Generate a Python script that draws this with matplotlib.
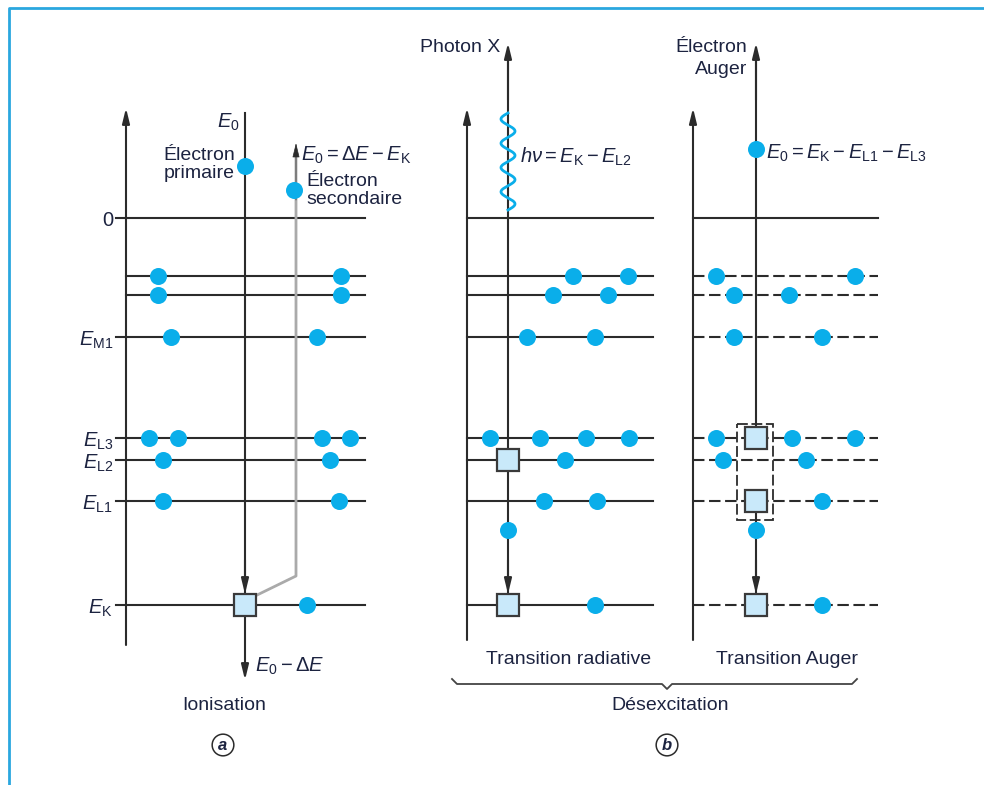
import numpy as np
import matplotlib.pyplot as plt
from matplotlib.patches import Rectangle

plt.rcParams['font.family'] = ['Liberation Sans', 'DejaVu Sans']
plt.rcParams['mathtext.fontset'] = 'custom'
plt.rcParams['mathtext.rm'] = 'Liberation Sans'
plt.rcParams['mathtext.it'] = 'Liberation Sans:italic'
plt.rcParams['mathtext.bf'] = 'Liberation Sans:bold'

# energy levels (vertical position in the drawing, top = 0)
level_names = ['0', '', '', 'M1', 'L3', 'L2', 'L1', 'K']
level_y = [218, 276, 295, 337, 438, 460, 501, 605]
level_labels = ['0', '', '', '$E_{\\mathrm{M1}}$', '$E_{\\mathrm{L3}}$',
                '$E_{\\mathrm{L2}}$', '$E_{\\mathrm{L1}}$', '$E_{\\mathrm{K}}$']

# electrons on each level (x positions) for each panel
ion_dots = {1: [158, 341], 2: [158, 341], 3: [171, 317], 4: [149, 178, 322, 350],
            5: [163, 330], 6: [163, 339], 7: [307]}
rad_dots = {1: [573, 628], 2: [553, 608], 3: [527, 595], 4: [490, 540, 586, 629],
            5: [565], 6: [544, 597], 7: [595]}
aug_dots = {1: [716, 855], 2: [734, 789], 3: [734, 822], 4: [716, 792, 855],
            5: [723, 806], 6: [822], 7: [822]}

# holes (squares)
ion_holes = [(245, 7)]
rad_holes = [(508, 5), (508, 7)]
aug_holes = [(756, 4), (756, 6), (756, 7)]

INK = '#2b2b2b'
TXT = '#1c2340'
DOT = '#0aaeea'
HOLE = '#c9e9fa'
FS = 14
FM = 14.5

fig = plt.figure(figsize=(9.84, 7.85), dpi=100)
ax = fig.add_axes([0, 0, 1, 1])
ax.set_xlim(0, 984)
ax.set_ylim(785, 0)
ax.axis('off')


def arrow(x0, y0, x1, y1, color=INK, lw=1.5):
    ax.annotate('', xy=(x1, y1), xytext=(x0, y0),
                arrowprops=dict(arrowstyle='-|>,head_length=0.9,head_width=0.22',
                                color=color, lw=lw, shrinkA=0, shrinkB=0), zorder=3)


def dots(d):
    for i, xs in d.items():
        ax.scatter(xs, [level_y[i]] * len(xs), s=150, color=DOT, zorder=5, linewidths=0)


def holes(h):
    for x, i in h:
        ax.add_patch(Rectangle((x - 11, level_y[i] - 11), 22, 22, facecolor=HOLE,
                               edgecolor='#3a3a3a', lw=1.6, zorder=6))


# frame
ax.plot([9, 9, 984], [785, 8, 8], color='#2aa7df', lw=2, clip_on=False)

# ---- panel a : ionisation
arrow(126, 645, 126, 108)
for i, y in enumerate(level_y):
    x0 = 116 if level_labels[i] else 126
    ax.plot([x0, 365], [y, y], color=INK, lw=1.5, zorder=2)
    if level_labels[i]:
        ax.text(113, y + 3, level_labels[i], ha='right', va='center', fontsize=FM, color=TXT)
ax.plot([245, 245], [113, 600], color=INK, lw=1.5, zorder=3)
arrow(245, 560, 245, 594)
arrow(245, 610, 245, 680)
ax.plot([253, 296, 296], [597, 576, 155], color='#aaaaaa', lw=2, zorder=3)
arrow(296, 200, 296, 143, color=INK, lw=0.5)
ax.scatter([245, 294], [166, 190], s=150, color=DOT, zorder=5, linewidths=0)
dots(ion_dots)
holes(ion_holes)
ax.text(217, 122, '$E_0$', ha='left', va='center', fontsize=FM, color=TXT)
ax.text(235, 155, 'Électron', ha='right', va='center', fontsize=FS, color=TXT)
ax.text(235, 174, 'primaire', ha='right', va='center', fontsize=FS, color=TXT)
ax.text(301, 155, '$E_0 = \\Delta E - E_{\\mathrm{K}}$', ha='left', va='center', fontsize=FM, color=TXT)
ax.text(306, 181, 'Électron', ha='left', va='center', fontsize=FS, color=TXT)
ax.text(306, 200, 'secondaire', ha='left', va='center', fontsize=FS, color=TXT)
ax.text(255, 666, '$E_0 - \\Delta E$', ha='left', va='center', fontsize=FM, color=TXT)
ax.text(224, 705, 'Ionisation', ha='center', va='center', fontsize=FS, color=TXT)
ax.text(223, 745, 'a', ha='center', va='center', fontsize=12, color=TXT,
        fontweight='bold', fontstyle='italic',
        bbox=dict(boxstyle='circle,pad=0.2', fc='white', ec=INK, lw=1.1))

# ---- panel b : radiative transition
arrow(467, 640, 467, 108)
for y in level_y:
    ax.plot([467, 653], [y, y], color=INK, lw=1.5, zorder=2)
ax.plot([508, 508], [55, 605], color=INK, lw=1.5, zorder=3)
arrow(508, 100, 508, 43)
arrow(508, 560, 508, 594)
wy = np.linspace(113, 210, 300)
ax.plot(508 + 7 * np.sin((wy - 113) / 97 * 4 * 2 * np.pi + np.pi), wy, color=DOT, lw=2, zorder=4)
ax.scatter([508], [530], s=150, color=DOT, zorder=5, linewidths=0)
dots(rad_dots)
holes(rad_holes)
ax.text(500, 48, 'Photon X', ha='right', va='center', fontsize=FS, color=TXT)
ax.text(520, 157, '$h\\nu = E_{\\mathrm{K}} - E_{\\mathrm{L2}}$', ha='left', va='center',
        fontsize=FM, color=TXT)
ax.text(569, 660, 'Transition radiative', ha='center', va='center', fontsize=FS, color=TXT)

# ---- panel b : Auger transition
arrow(693, 640, 693, 108)
for i, y in enumerate(level_y):
    if i == 0:
        ax.plot([693, 878], [y, y], color=INK, lw=1.5, zorder=2)
    else:
        ax.plot([693, 878], [y, y], color=INK, lw=1.5, zorder=2, dashes=(5.5, 2.2))
ax.plot([756, 756], [55, 438], color=INK, lw=1.5, zorder=3)
ax.plot([756, 756], [501, 605], color=INK, lw=1.5, zorder=3)
arrow(756, 100, 756, 43)
arrow(756, 560, 756, 594)
ax.add_patch(Rectangle((737, 424), 36, 96, facecolor='none', edgecolor=INK, lw=1.3,
                       ls=(0, (6, 2)), zorder=4))
ax.scatter([756, 756], [149, 530], s=150, color=DOT, zorder=7, linewidths=0)
dots(aug_dots)
holes(aug_holes)
ax.text(747, 47, 'Électron', ha='right', va='center', fontsize=FS, color=TXT)
ax.text(747, 70, 'Auger', ha='right', va='center', fontsize=FS, color=TXT)
ax.text(766, 153, '$E_0 = E_{\\mathrm{K}} - E_{\\mathrm{L1}} - E_{\\mathrm{L3}}$', ha='left',
        va='center', fontsize=FM, color=TXT)
ax.text(787, 660, 'Transition Auger', ha='center', va='center', fontsize=FS, color=TXT)

# brace + caption
ax.plot([452, 457, 662, 667, 672, 852, 857], [679, 684, 684, 689, 684, 684, 679],
        color='#444444', lw=1.3)
ax.text(670, 705, 'Désexcitation', ha='center', va='center', fontsize=FS, color=TXT)
ax.text(667, 745, 'b', ha='center', va='center', fontsize=12, color=TXT,
        fontweight='bold', fontstyle='italic',
        bbox=dict(boxstyle='circle,pad=0.2', fc='white', ec=INK, lw=1.1))

fig.savefig('out.png', dpi=100)
